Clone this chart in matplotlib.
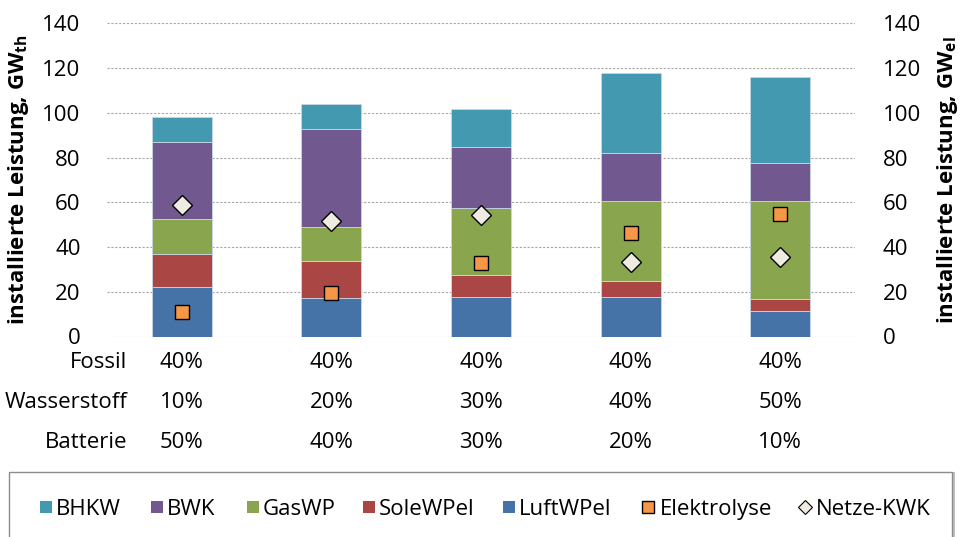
import matplotlib
matplotlib.use("Agg")
import matplotlib.pyplot as plt
from matplotlib.patches import Rectangle
from matplotlib.lines import Line2D
import matplotlib.transforms as mtransforms
import numpy as np

plt.rcParams['font.family'] = ['Open Sans', 'DejaVu Sans']

scenarios = ["S1", "S2", "S3", "S4", "S5"]
luft = [22.0, 17.4, 17.5, 17.5, 11.3]
sole = [15.0, 16.5, 10.1, 7.5, 5.5]
gaswp = [15.5, 14.9, 29.7, 35.7, 43.9]
bwk = [34.6, 44.1, 27.3, 21.5, 17.0]
bhkw = [11.1, 10.9, 17.0, 35.8, 38.5]
elektrolyse = [11.1, 19.3, 32.9, 46.2, 54.6]
netze_kwk = [58.7, 51.7, 54.3, 33.5, 35.7]

row_labels = ["Fossil", "Wasserstoff", "Batterie"]
fossil = ["40%", "40%", "40%", "40%", "40%"]
wasserstoff = ["10%", "20%", "30%", "40%", "50%"]
batterie = ["50%", "40%", "30%", "20%", "10%"]

yticks = [0, 20, 40, 60, 80, 100, 120, 140]

colors = {
    "BHKW": "#4399AF",
    "BWK": "#71588F",
    "GasWP": "#89A54E",
    "SoleWPel": "#AA4643",
    "LuftWPel": "#4572A7",
}
ORANGE = "#F79646"
CREAM = "#EEECE1"

FS = 16
W, H = 966, 537

fig = plt.figure(figsize=(9.66, 5.37), dpi=100)
ax = fig.add_axes([107/W, 1-336.5/H, (855-107)/W, (336.5-23.3)/H])

x = np.arange(len(scenarios))
w = 0.4
stack = [("LuftWPel", luft), ("SoleWPel", sole), ("GasWP", gaswp), ("BWK", bwk), ("BHKW", bhkw)]
bottom = np.zeros(len(x))
for name, vals in stack:
    ax.bar(x, vals, w, bottom=bottom, color=colors[name], edgecolor="#C9D6E6",
           linewidth=0.6, zorder=2)
    bottom += np.array(vals)

ax.plot(x, elektrolyse, ls="none", marker="s", markersize=10, markerfacecolor=ORANGE,
        markeredgecolor="black", markeredgewidth=1.0, zorder=4)
ax.plot(x, netze_kwk, ls="none", marker="D", markersize=10, markerfacecolor=CREAM,
        markeredgecolor="black", markeredgewidth=1.0, zorder=4)

ax.set_xlim(-0.5, len(x) - 0.5)
ax.set_ylim(0, 140)
ax.set_yticks(yticks)
ax.set_xticks([])
for s in ax.spines.values():
    s.set_visible(False)
ax.yaxis.grid(True, color="#A6A6A6", linestyle=(0, (2, 1.5)), linewidth=0.8, zorder=0)
ax.tick_params(axis="y", length=0, pad=19, labelsize=FS)
ax.set_ylabel("installierte Leistung, GW$_{\\mathregular{th}}$", fontsize=FS, fontweight="bold", labelpad=8)

ax2 = ax.twinx()
ax2.set_ylim(0, 140)
ax2.set_yticks(yticks)
for s in ax2.spines.values():
    s.set_visible(False)
ax2.tick_params(axis="y", length=0, pad=20, labelsize=FS)
ax2.set_ylabel("installierte Leistung, GW$_{\\mathregular{el}}$", fontsize=FS, fontweight="bold", labelpad=10)

# table below
trans = mtransforms.blended_transform_factory(ax.transData, fig.transFigure)
rows_y = [1-363/H, 1-403/H, 1-443/H]
for lab, vals, yy in zip(row_labels, [fossil, wasserstoff, batterie], rows_y):
    fig.text(127/W, yy, lab, ha="right", va="center", fontsize=FS)
    for xi, v in zip(x, vals):
        ax.text(xi, yy, v, ha="center", va="center", fontsize=FS, transform=trans)

# legend frame with shadow
fig.patches.append(Rectangle((12/W, -0.05), (955-12)/W, (H-472)/H + 0.05,
                             transform=fig.transFigure, facecolor="#BFBFBF", edgecolor="none",
                             zorder=0))
fig.patches.append(Rectangle((9/W, -0.05), (952-9)/W, (H-472)/H + 0.05,
                             transform=fig.transFigure, facecolor="white", edgecolor="#8C8C8C",
                             linewidth=1.0, zorder=1))

# legend entries (manual, single row)
legend_labels = ["BHKW", "BWK", "GasWP", "SoleWPel", "LuftWPel", "Elektrolyse", "Netze-KWK"]
legend_kinds = ["patch", "patch", "patch", "patch", "patch", "square", "diamond"]
legend_colors = [colors["BHKW"], colors["BWK"], colors["GasWP"], colors["SoleWPel"],
                 colors["LuftWPel"], ORANGE, CREAM]
legend_x = [40, 151, 247, 363, 503, 642, 799]
ly = 1 - 507/H
for lab, kind, col, lx in zip(legend_labels, legend_kinds, legend_colors, legend_x):
    if kind == "patch":
        fig.patches.append(Rectangle((lx/W, ly - 6/H), 12/W, 12/H, transform=fig.transFigure,
                                     facecolor=col, edgecolor="none", zorder=3))
        tx = lx + 16
    elif kind == "square":
        fig.patches.append(Rectangle((lx/W, ly - 6/H), 12/W, 12/H, transform=fig.transFigure,
                                     facecolor=col, edgecolor="black", linewidth=1.0, zorder=3))
        tx = lx + 18
    else:
        fig.add_artist(Line2D([(lx + 6)/W], [ly], transform=fig.transFigure, ls="none",
                              marker="D", markersize=7, markerfacecolor=col,
                              markeredgecolor="black", markeredgewidth=0.8, zorder=3))
        tx = lx + 17
    fig.text(tx/W, ly, lab, ha="left", va="center_baseline", fontsize=FS, zorder=3)

fig.savefig("out.png", dpi=100)
